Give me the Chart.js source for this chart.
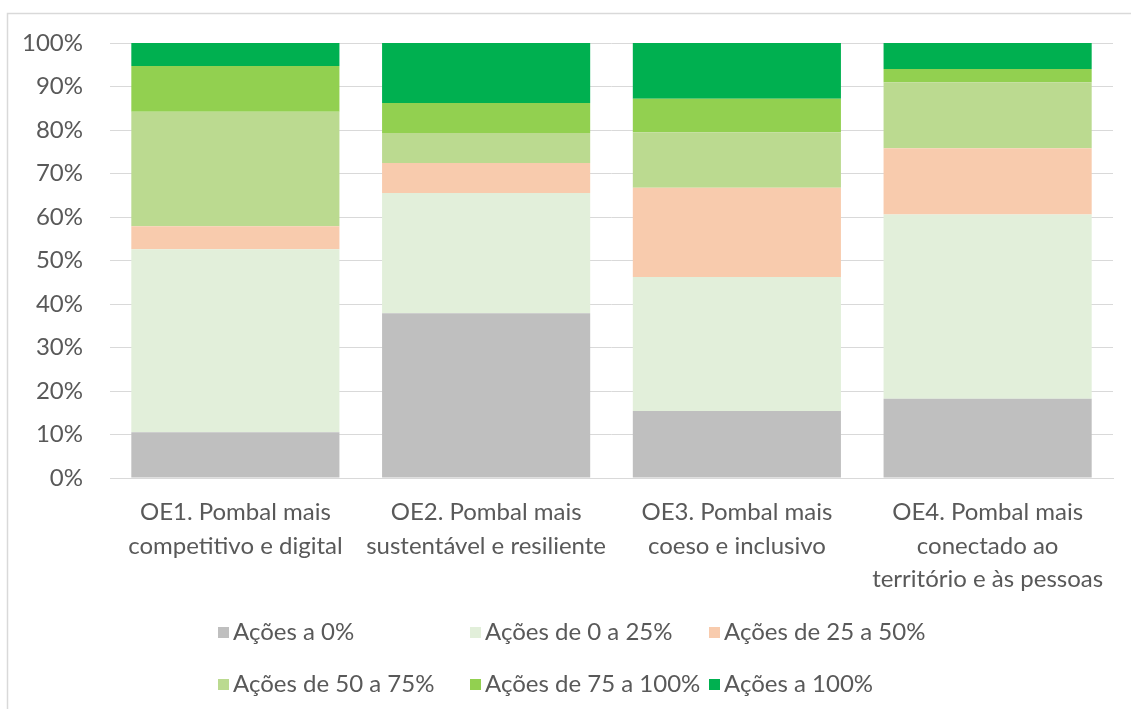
<!DOCTYPE html>
<html>
<head>
<meta charset="utf-8">
<script src="https://cdn.jsdelivr.net/npm/chart.js@4/dist/chart.umd.min.js"></script>
<style>
  html, body { margin: 0; padding: 0; background: #fff; }
  #wrap { position: relative; width: 1131px; height: 709px; }
</style>
</head>
<body>
<div id="wrap"><canvas id="c" width="1131" height="709"></canvas></div>
<script>
// Categories (x-axis labels, wrapped as in the reference)
const categories = [
  ["OE1. Pombal mais", "competitivo e digital"],
  ["OE2. Pombal mais", "sustentável e resiliente"],
  ["OE3. Pombal mais", "coeso e inclusivo"],
  ["OE4. Pombal mais", "conectado ao", "território e às pessoas"]
];

// Series names
const seriesNames = [
  "Ações a 0%",
  "Ações de 0 a 25%",
  "Ações de 25 a 50%",
  "Ações de 50 a 75%",
  "Ações de 75 a 100%",
  "Ações a 100%"
];

// Series values (% of actions per objective)
const acoes0 = [10.5, 37.9, 15.4, 18.2];
const acoes0a25 = [42.1, 27.6, 30.8, 42.4];
const acoes25a50 = [5.3, 6.9, 20.5, 15.2];
const acoes50a75 = [26.3, 6.9, 12.8, 15.2];
const acoes75a100 = [10.5, 6.9, 7.7, 3.0];
const acoes100 = [5.3, 13.8, 12.8, 6.0];

// Y tick values
const yTicks = [0, 10, 20, 30, 40, 50, 60, 70, 80, 90, 100];

const colors = ["#BFBFBF", "#E2EFDA", "#F8CBAD", "#BBDA90", "#92D050", "#00B050"];
const seriesValues = [acoes0, acoes0a25, acoes25a50, acoes50a75, acoes75a100, acoes100];

const FONT = "Lato";
const FONT_SIZE = 24;
const TEXT_COLOR = "#595959";
const GRID_COLOR = "#D9D9D9";

const datasets = seriesNames.map((name, i) => ({
  label: name,
  data: seriesValues[i],
  backgroundColor: colors[i],
  borderWidth: 0,
  barPercentage: 0.83,
  categoryPercentage: 1.0
}));

const frameAndLegend = {
  id: 'frameAndLegend',
  beforeDraw(chart) {
    const ctx = chart.ctx;
    ctx.save();
    ctx.fillStyle = '#fff';
    ctx.fillRect(0, 0, chart.width, chart.height);
    ctx.strokeStyle = GRID_COLOR;
    ctx.lineWidth = 1.5;
    ctx.strokeRect(7.5, 13.5, 1200, 800);
    ctx.restore();
  },
  afterDraw(chart) {
    const ctx = chart.ctx;
    const cols = [218, 470, 709];
    const rows = [632, 684];
    ctx.save();
    ctx.font = FONT_SIZE + "px " + FONT;
    ctx.textBaseline = 'middle';
    ctx.textAlign = 'left';
    chart.data.datasets.forEach((ds, i) => {
      const x = cols[i % 3];
      const y = rows[Math.floor(i / 3)];
      ctx.fillStyle = ds.backgroundColor;
      ctx.fillRect(x, y - 5, 11, 11);
      ctx.fillStyle = TEXT_COLOR;
      ctx.fillText(ds.label, x + 15, y);
    });
    ctx.restore();
  }
};

new Chart(document.getElementById('c'), {
  type: 'bar',
  data: { labels: categories, datasets },
  options: {
    responsive: false,
    animation: false,
    devicePixelRatio: 1,
    layout: { padding: { top: 43, right: 18, left: 0, bottom: 0 } },
    plugins: {
      legend: { display: false },
      tooltip: { enabled: false }
    },
    scales: {
      x: {
        stacked: true,
        grid: { display: false, drawTicks: false },
        border: { display: true, color: GRID_COLOR, width: 1 },
        ticks: {
          color: TEXT_COLOR,
          font: { family: FONT, size: FONT_SIZE, lineHeight: 1.39 },
          maxRotation: 0,
          autoSkip: false,
          padding: 18
        },
        afterFit(scale) { scale.height = 231; }
      },
      y: {
        stacked: true,
        min: 0,
        max: 100,
        afterBuildTicks(scale) { scale.ticks = yTicks.map(v => ({ value: v })); },
        grid: { color: GRID_COLOR, lineWidth: 1, drawTicks: false },
        border: { display: false },
        ticks: {
          color: TEXT_COLOR,
          font: { family: FONT, size: FONT_SIZE },
          padding: 27,
          callback: v => v + "%"
        },
        afterFit(scale) { scale.width = 110; }
      }
    }
  },
  plugins: [frameAndLegend]
});
</script>
</body>
</html>
